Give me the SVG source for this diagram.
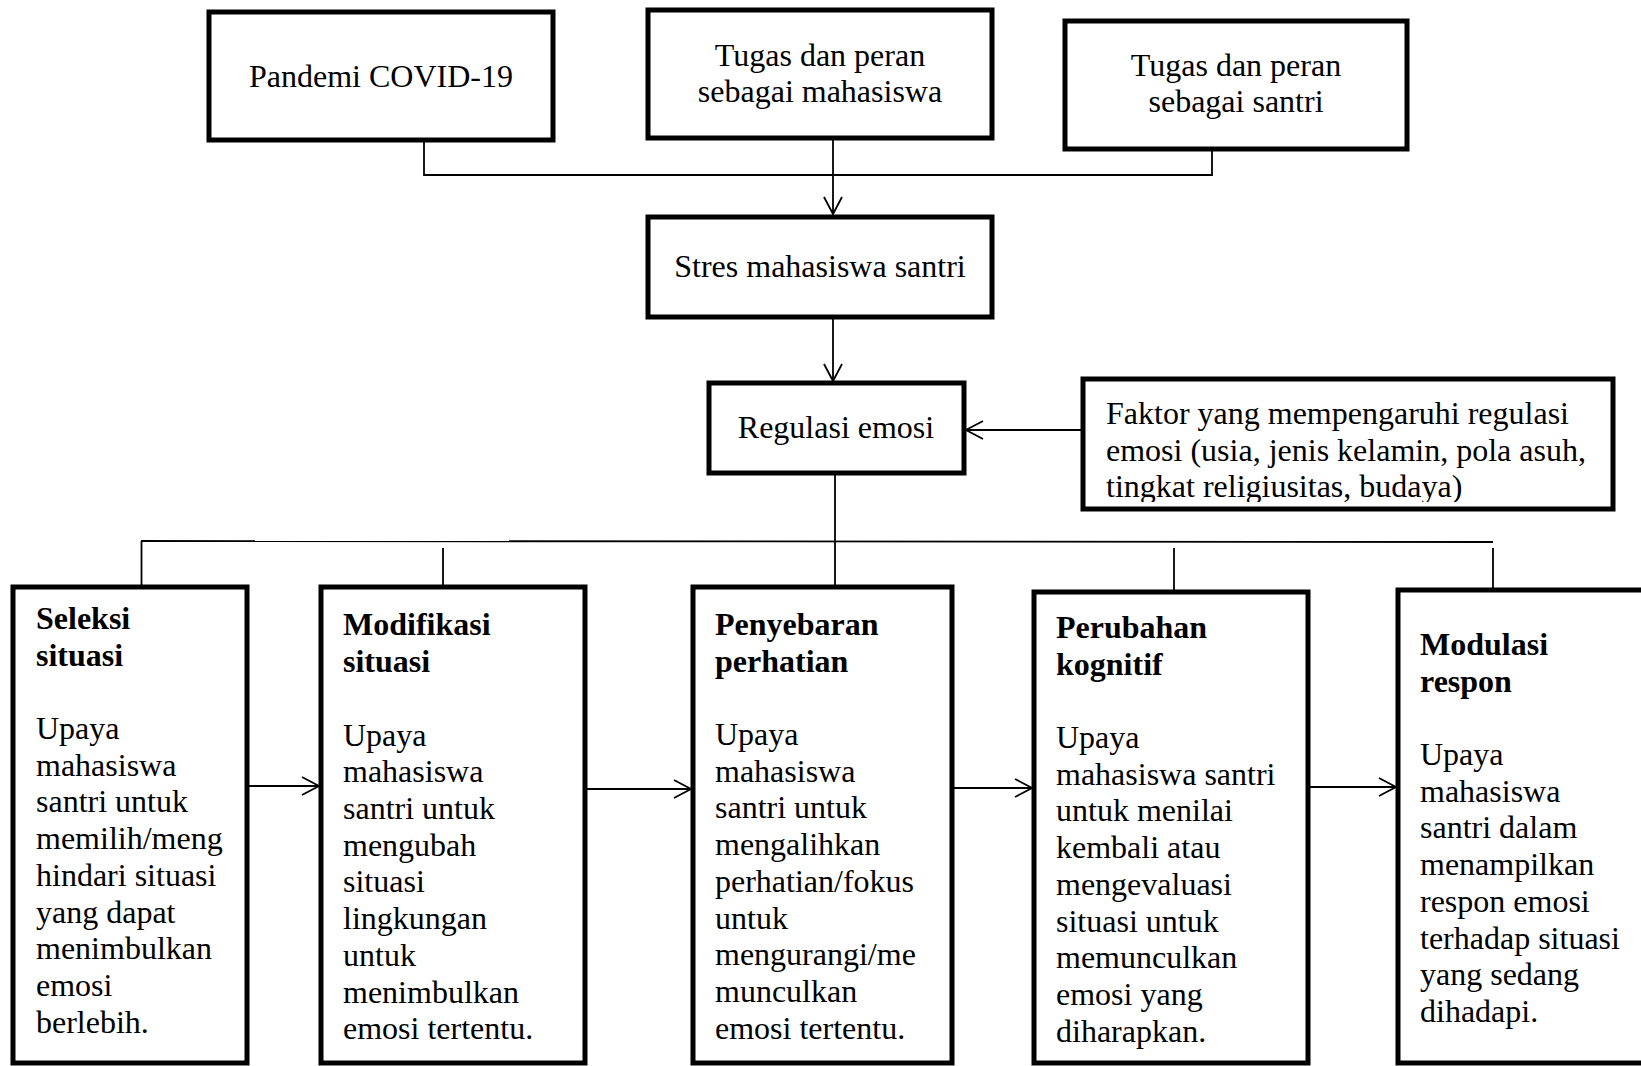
<svg xmlns="http://www.w3.org/2000/svg" width="1641" height="1066" viewBox="0 0 1641 1066">
<style>
.box{fill:#fff;stroke:#000;stroke-width:5}
.t{font-family:"Liberation Serif","Times New Roman",serif;font-size:32px;fill:#000}
.c{text-anchor:middle}
.b{font-weight:bold}
.ln{stroke:#000;stroke-width:1.8;fill:none}
</style>
<defs>
<marker id="ah" viewBox="0 0 20 20" refX="18" refY="10" markerWidth="20" markerHeight="20" markerUnits="userSpaceOnUse" orient="auto">
<path d="M1,1 L18,10 L1,19" fill="none" stroke="#000" stroke-width="1.8"/>
</marker>
<clipPath id="fclip"><rect x="1083" y="377" width="530" height="125"/></clipPath>
</defs>
<rect width="1641" height="1066" fill="#fff"/>
<g id="connectors">
<polyline class="ln" points="424,140 424,175 1212,175 1212,149"/>
<line class="ln" x1="833" y1="138" x2="833" y2="214" marker-end="url(#ah)"/>
<line class="ln" x1="833" y1="317" x2="833" y2="381" marker-end="url(#ah)"/>
<line class="ln" x1="1083" y1="430" x2="966" y2="430" marker-end="url(#ah)"/>
<line class="ln" x1="835" y1="473" x2="835" y2="586"/>
<line class="ln" x1="141" y1="541" x2="1493" y2="542"/>
<line class="ln" x1="141.5" y1="541" x2="141.5" y2="586"/>
<line class="ln" x1="443" y1="548" x2="443" y2="586"/>
<line class="ln" x1="1174" y1="548" x2="1174" y2="591"/>
<line class="ln" x1="1493" y1="548" x2="1493" y2="589"/>
<line class="ln" x1="247" y1="786" x2="319" y2="786" marker-end="url(#ah)"/>
<line class="ln" x1="585" y1="789" x2="691" y2="789" marker-end="url(#ah)"/>
<line class="ln" x1="952" y1="788" x2="1032" y2="788" marker-end="url(#ah)"/>
<line class="ln" x1="1308" y1="787" x2="1396" y2="787" marker-end="url(#ah)"/>
</g>
<g id="pandemi">
<rect class="box" x="209" y="12" width="344" height="128"/>
<text class="t c" x="381" y="87">Pandemi COVID-19</text>
</g>
<g id="tugas-mahasiswa">
<rect class="box" x="648" y="10" width="344" height="128"/>
<text class="t c" x="820" y="66">Tugas dan peran</text>
<text class="t c" x="820" y="102">sebagai mahasiswa</text>
</g>
<g id="tugas-santri">
<rect class="box" x="1065" y="21" width="342" height="128"/>
<text class="t c" x="1236" y="76">Tugas dan peran</text>
<text class="t c" x="1236" y="112">sebagai santri</text>
</g>
<g id="stres">
<rect class="box" x="648" y="217" width="344" height="100"/>
<text class="t c" x="820" y="277">Stres mahasiswa santri</text>
</g>
<g id="regulasi">
<rect class="box" x="709" y="383" width="255" height="90"/>
<text class="t c" x="836" y="438">Regulasi emosi</text>
</g>
<g id="faktor">
<g clip-path="url(#fclip)">
<text class="t" x="1106" y="424">Faktor yang mempengaruhi regulasi</text>
<text class="t" x="1106" y="461">emosi (usia, jenis kelamin, pola asuh,</text>
<text class="t" x="1106" y="497">tingkat religiusitas, budaya)</text>
</g>
<rect x="1083" y="379" width="530" height="130" fill="none" stroke="#000" stroke-width="5"/>
</g>
<g id="seleksi">
<rect class="box" x="13" y="587" width="234" height="476"/>
<text class="t b" x="36" y="629">Seleksi</text>
<text class="t b" x="36" y="665.7">situasi</text>
<text class="t" x="36" y="739">Upaya</text>
<text class="t" x="36" y="775.7">mahasiswa</text>
<text class="t" x="36" y="812.4">santri untuk</text>
<text class="t" x="36" y="849.1">memilih/meng</text>
<text class="t" x="36" y="885.8">hindari situasi</text>
<text class="t" x="36" y="922.5">yang dapat</text>
<text class="t" x="36" y="959.2">menimbulkan</text>
<text class="t" x="36" y="995.9">emosi</text>
<text class="t" x="36" y="1032.6">berlebih.</text>
</g>
<g id="modifikasi">
<rect class="box" x="321" y="587" width="264" height="476"/>
<text class="t b" x="343" y="635">Modifikasi</text>
<text class="t b" x="343" y="671.7">situasi</text>
<text class="t" x="343" y="745.6">Upaya</text>
<text class="t" x="343" y="782.3">mahasiswa</text>
<text class="t" x="343" y="819">santri untuk</text>
<text class="t" x="343" y="855.7">mengubah</text>
<text class="t" x="343" y="892.4">situasi</text>
<text class="t" x="343" y="929.1">lingkungan</text>
<text class="t" x="343" y="965.8">untuk</text>
<text class="t" x="343" y="1002.5">menimbulkan</text>
<text class="t" x="343" y="1039.2">emosi tertentu.</text>
</g>
<g id="penyebaran">
<rect class="box" x="693" y="587" width="259" height="476"/>
<text class="t b" x="715" y="635">Penyebaran</text>
<text class="t b" x="715" y="671.7">perhatian</text>
<text class="t" x="715" y="745">Upaya</text>
<text class="t" x="715" y="781.7">mahasiswa</text>
<text class="t" x="715" y="818.4">santri untuk</text>
<text class="t" x="715" y="855.1">mengalihkan</text>
<text class="t" x="715" y="891.8">perhatian/fokus</text>
<text class="t" x="715" y="928.5">untuk</text>
<text class="t" x="715" y="965.2">mengurangi/me</text>
<text class="t" x="715" y="1001.9">munculkan</text>
<text class="t" x="715" y="1038.6">emosi tertentu.</text>
</g>
<g id="perubahan">
<rect class="box" x="1034" y="592" width="274" height="471"/>
<text class="t b" x="1056" y="638">Perubahan</text>
<text class="t b" x="1056" y="674.7">kognitif</text>
<text class="t" x="1056" y="748">Upaya</text>
<text class="t" x="1056" y="784.7">mahasiswa santri</text>
<text class="t" x="1056" y="821.4">untuk menilai</text>
<text class="t" x="1056" y="858.1">kembali atau</text>
<text class="t" x="1056" y="894.8">mengevaluasi</text>
<text class="t" x="1056" y="931.5">situasi untuk</text>
<text class="t" x="1056" y="968.2">memunculkan</text>
<text class="t" x="1056" y="1004.9">emosi yang</text>
<text class="t" x="1056" y="1041.6">diharapkan.</text>
</g>
<g id="modulasi">
<rect class="box" x="1398" y="590" width="260" height="473"/>
<text class="t b" x="1420" y="655">Modulasi</text>
<text class="t b" x="1420" y="691.7">respon</text>
<text class="t" x="1420" y="765">Upaya</text>
<text class="t" x="1420" y="801.7">mahasiswa</text>
<text class="t" x="1420" y="838.4">santri dalam</text>
<text class="t" x="1420" y="875.1">menampilkan</text>
<text class="t" x="1420" y="911.8">respon emosi</text>
<text class="t" x="1420" y="948.5">terhadap situasi</text>
<text class="t" x="1420" y="985.2">yang sedang</text>
<text class="t" x="1420" y="1021.9">dihadapi.</text>
</g>
</svg>
